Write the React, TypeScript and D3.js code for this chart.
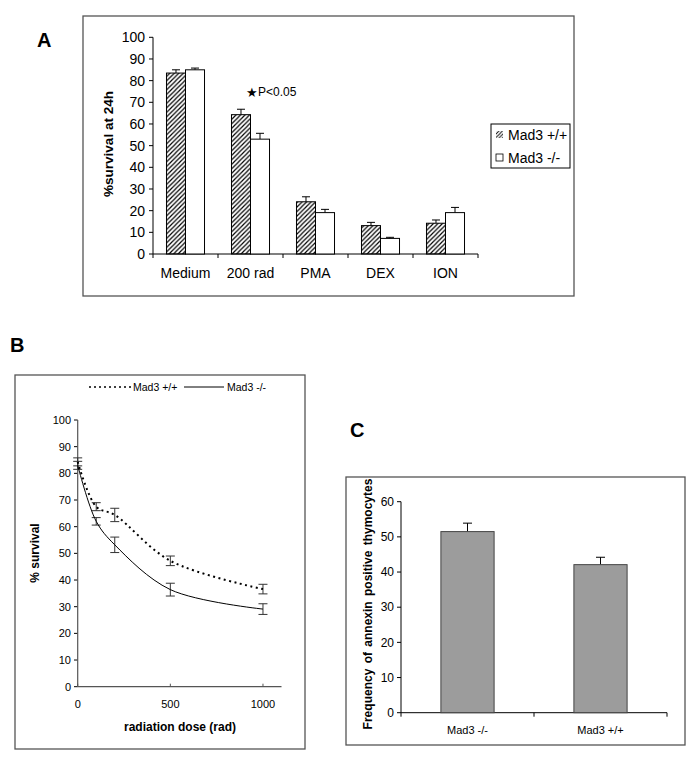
import React from "react";
import * as d3 from "d3";

const catsA = ["Medium", "200 rad", "PMA", "DEX", "ION"];
const wtA = [83.5, 64.3, 24.1, 13.1, 14.2];
const wtErrA = [1.5, 2.5, 2.3, 1.5, 1.5];
const koA = [85, 53, 19.1, 7.2, 19.1];
const koErrA = [0.8, 2.7, 1.5, 0.5, 2.4];
const ticksA = [0, 10, 20, 30, 40, 50, 60, 70, 80, 90, 100];

const doseB = [0, 100, 200, 500, 1000];
const wtB = [84.3, 67.5, 64.4, 47.2, 36.6];
const wtErrB = [1.5, 1.5, 2.5, 1.8, 1.8];
const koB = [83, 62, 53.2, 36.4, 29.1];
const koErrB = [1.5, 1.4, 2.9, 2.4, 2.0];
const ticksBY = [0, 10, 20, 30, 40, 50, 60, 70, 80, 90, 100];
const ticksBX = [0, 500, 1000];

const catsC = ["Mad3 -/-", "Mad3 +/+"];
const valC = [51.5, 42.1];
const errC = [2.4, 2.1];
const ticksC = [0, 10, 20, 30, 40, 50, 60];

const FONT = "Liberation Sans, Arial, sans-serif";

function PanelA() {
  const y = d3.scaleLinear([0, 100], [254, 37.3]);
  const x = d3.scaleBand(catsA, [153, 478]).paddingInner(0.415).paddingOuter(0.2075);
  const sub = d3.scaleBand(["wt", "ko"], [0, x.bandwidth()]);
  const step = x.step();
  const bounds = [153, ...catsA.map((c) => x(c)! - (step * 0.415) / 2 + step)];
  const cap = 4;
  return (
    <g>
      <rect x={83} y={16} width={491} height={280} fill="none" stroke="#555" strokeWidth={1.3} />
      <text x={37} y={47} fontSize={20} fontWeight="bold" fontFamily={FONT}>A</text>
      {ticksA.map((t) => (
        <g key={t}>
          <line x1={149} x2={153} y1={y(t)} y2={y(t)} stroke="#000" />
          <text x={145} y={y(t)} dy="0.35em" textAnchor="end" fontSize={14} fontFamily={FONT}>{t}</text>
        </g>
      ))}
      <line x1={153} x2={153} y1={y(100)} y2={y(0)} stroke="#000" />
      <line x1={153} x2={478} y1={y(0)} y2={y(0)} stroke="#000" />
      {bounds.map((b, i) => (
        <line key={i} x1={b} x2={b} y1={y(0)} y2={y(0) + 4} stroke="#000" />
      ))}
      {catsA.map((c, i) => {
        const xw = x(c)! + sub("wt")!;
        const xk = x(c)! + sub("ko")!;
        const bw = sub.bandwidth();
        return (
          <g key={c}>
            <line x1={xw + bw / 2} x2={xw + bw / 2} y1={y(wtA[i])} y2={y(wtA[i] + wtErrA[i])} stroke="#000" />
            <line x1={xw + bw / 2 - cap} x2={xw + bw / 2 + cap} y1={y(wtA[i] + wtErrA[i])} y2={y(wtA[i] + wtErrA[i])} stroke="#000" />
            <line x1={xk + bw / 2} x2={xk + bw / 2} y1={y(koA[i])} y2={y(koA[i] + koErrA[i])} stroke="#000" />
            <line x1={xk + bw / 2 - cap} x2={xk + bw / 2 + cap} y1={y(koA[i] + koErrA[i])} y2={y(koA[i] + koErrA[i])} stroke="#000" />
            <rect x={xw} y={y(wtA[i])} width={bw} height={y(0) - y(wtA[i])} fill="url(#hatch)" stroke="#000" strokeWidth={1} />
            <rect x={xk} y={y(koA[i])} width={bw} height={y(0) - y(koA[i])} fill="#fff" stroke="#000" strokeWidth={1} />
            <text x={x(c)! + x.bandwidth() / 2} y={278} textAnchor="middle" fontSize={14} fontFamily={FONT}>{c}</text>
          </g>
        );
      })}
      <text x={113} y={144} transform="rotate(-90 113 144)" textAnchor="middle" fontSize={13.5} fontWeight="bold" fontFamily={FONT}>%survival at 24h</text>
      <text x={252} y={97} textAnchor="middle" fontSize={13} fontFamily={FONT}>★</text>
      <text x={258} y={96} fontSize={12} fontFamily={FONT}>P&lt;0.05</text>
      <rect x={491} y={124} width={79} height={44} fill="#fff" stroke="#000" strokeWidth={1} />
      <rect x={496} y={131} width={7} height={7} fill="url(#hatchS)" stroke="none" />
      <text x={508} y={140} fontSize={14} fontFamily={FONT}>Mad3 +/+</text>
      <rect x={496} y={154} width={7} height={7} fill="#fff" stroke="#000" strokeWidth={0.8} />
      <text x={508} y={163} fontSize={14} fontFamily={FONT}>Mad3 -/-</text>
    </g>
  );
}

function PanelB() {
  const x = d3.scaleLinear([0, 1100], [77.7, 281.5]);
  const y = d3.scaleLinear([0, 100], [686.7, 420]);
  const line = d3
    .line<number>()
    .x((_, i) => x(doseB[i]))
    .y((d) => y(d))
    .curve(d3.curveCatmullRom.alpha(0.5));
  const cap = 4.5;
  const errs = (vals: number[], errsV: number[], key: string) =>
    doseB.map((d, i) => {
      const lo = y(vals[i] - errsV[i]);
      const hi = y(vals[i] + errsV[i]);
      const cx = x(d);
      return (
        <g key={key + i} stroke="#333" strokeWidth={1}>
          <line x1={cx} x2={cx} y1={lo} y2={hi} />
          <line x1={cx - cap} x2={cx + cap} y1={lo} y2={lo} />
          <line x1={cx - cap} x2={cx + cap} y1={hi} y2={hi} />
        </g>
      );
    });
  return (
    <g>
      <text x={10} y={352} fontSize={20} fontWeight="bold" fontFamily={FONT}>B</text>
      <rect x={15} y={375} width={290} height={374} fill="none" stroke="#555" strokeWidth={1.3} />
      <line x1={89} x2={131} y1={387} y2={387} stroke="#000" strokeWidth={1.5} strokeDasharray="2 3" />
      <text x={133} y={391} fontSize={10.5} fontFamily={FONT}>Mad3 +/+</text>
      <line x1={184} x2={224} y1={387} y2={387} stroke="#000" strokeWidth={1} />
      <text x={227} y={391} fontSize={10.5} fontFamily={FONT}>Mad3 -/-</text>
      {ticksBY.map((t) => (
        <g key={t}>
          <line x1={74} x2={77.7} y1={y(t)} y2={y(t)} stroke="#000" />
          <text x={71} y={y(t)} dy="0.35em" textAnchor="end" fontSize={11} fontFamily={FONT}>{t}</text>
        </g>
      ))}
      <line x1={77.7} x2={77.7} y1={y(100)} y2={y(0)} stroke="#555" strokeWidth={1.2} />
      <line x1={77.7} x2={281.5} y1={y(0)} y2={y(0)} stroke="#555" strokeWidth={1.2} />
      {ticksBX.map((t) => (
        <g key={t}>
          <line x1={x(t)} x2={x(t)} y1={y(0)} y2={y(0) - 3} stroke="#555" />
          <text x={x(t)} y={708} textAnchor="middle" fontSize={11} fontFamily={FONT}>{t}</text>
        </g>
      ))}
      {errs(wtB, wtErrB, "w")}
      {errs(koB, koErrB, "k")}
      <path d={line(wtB)!} fill="none" stroke="#000" strokeWidth={2} strokeDasharray="2 3.5" />
      <path d={line(koB)!} fill="none" stroke="#000" strokeWidth={1} />
      <text x={180} y={731} textAnchor="middle" fontSize={12} fontWeight="bold" fontFamily={FONT}>radiation dose (rad)</text>
      <text x={39} y={553} transform="rotate(-90 39 553)" textAnchor="middle" fontSize={12} fontWeight="bold" fontFamily={FONT}>% survival</text>
    </g>
  );
}

function PanelC() {
  const x = d3.scaleBand(catsC, [401, 667]).paddingInner(0.6).paddingOuter(0.3);
  const y = d3.scaleLinear([0, 60], [712.7, 501.7]);
  const cap = 4.5;
  const bounds = [401, 534, 667];
  return (
    <g>
      <text x={350} y={437} fontSize={20} fontWeight="bold" fontFamily={FONT}>C</text>
      <rect x={346} y={477} width={339} height={268} fill="none" stroke="#555" strokeWidth={1.3} />
      {ticksC.map((t) => (
        <g key={t}>
          <line x1={397} x2={401} y1={y(t)} y2={y(t)} stroke="#000" />
          <text x={394} y={y(t)} dy="0.35em" textAnchor="end" fontSize={12} fontFamily={FONT}>{t}</text>
        </g>
      ))}
      <line x1={401} x2={401} y1={y(60)} y2={y(0)} stroke="#000" />
      <line x1={401} x2={667} y1={y(0)} y2={y(0)} stroke="#000" />
      {bounds.map((b) => (
        <line key={b} x1={b} x2={b} y1={y(0)} y2={y(0) + 4} stroke="#000" />
      ))}
      {catsC.map((c, i) => {
        const cx = x(c)! + x.bandwidth() / 2;
        return (
          <g key={c}>
            <line x1={cx} x2={cx} y1={y(valC[i])} y2={y(valC[i] + errC[i])} stroke="#000" />
            <line x1={cx - cap} x2={cx + cap} y1={y(valC[i] + errC[i])} y2={y(valC[i] + errC[i])} stroke="#000" />
            <rect x={x(c)!} y={y(valC[i])} width={x.bandwidth()} height={y(0) - y(valC[i])} fill="#9c9c9c" stroke="#444" strokeWidth={1} />
            <text x={cx} y={734} textAnchor="middle" fontSize={11} fontFamily={FONT}>{c}</text>
          </g>
        );
      })}
      <text x={372} y={604} transform="rotate(-90 372 604)" textAnchor="middle" fontSize={12} fontWeight="bold" fontFamily={FONT} wordSpacing={2}>Frequency of annexin positive thymocytes</text>
    </g>
  );
}

export default function App() {
  return (
    <svg width={695} height={757} style={{ position: "absolute", left: 0, top: 0, background: "#fff" }}>
      <defs>
        <pattern id="hatch" patternUnits="userSpaceOnUse" width={4.5} height={4.5}>
          <path d="M-1,1 l2,-2 M0,4.5 l4.5,-4.5 M3.5,5.5 l2,-2" stroke="#000" strokeWidth={1.2} />
        </pattern>
        <pattern id="hatchS" patternUnits="userSpaceOnUse" width={3.5} height={3.5}>
          <path d="M-1,1 l2,-2 M0,3.5 l3.5,-3.5 M2.5,4.5 l2,-2" stroke="#000" strokeWidth={0.9} />
        </pattern>
      </defs>
      <rect x={0} y={0} width={695} height={757} fill="#fff" />
      <PanelA />
      <PanelB />
      <PanelC />
    </svg>
  );
}
